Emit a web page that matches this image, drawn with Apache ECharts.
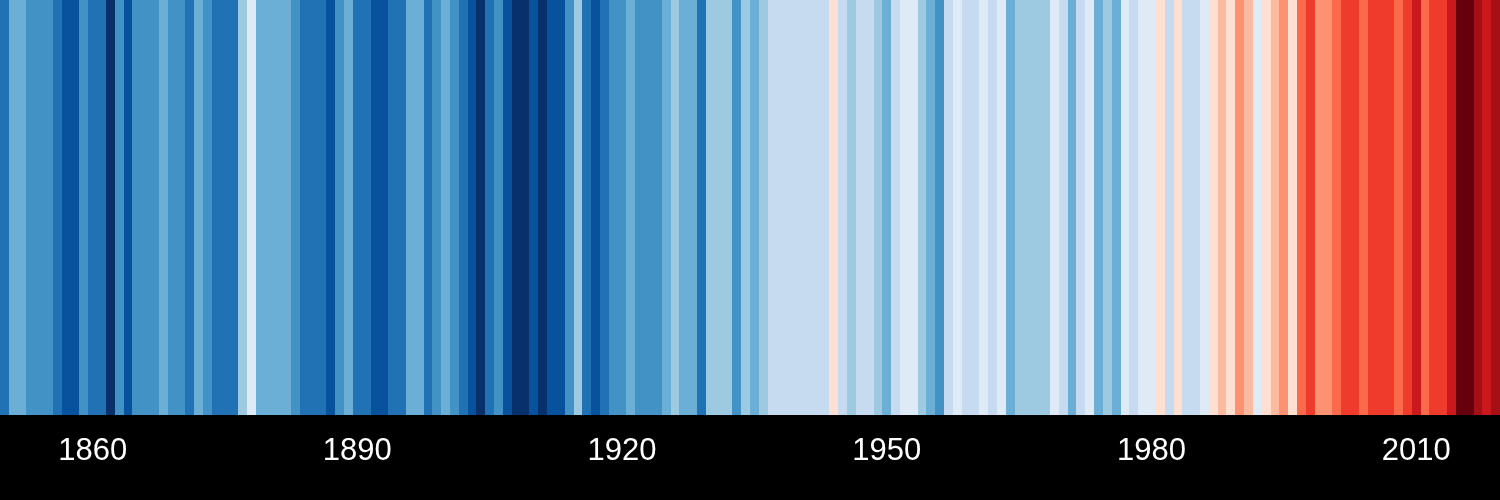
<!DOCTYPE html>
<html>
<head>
<meta charset="utf-8">
<style>
  html, body { margin: 0; padding: 0; background: #000; }
  #chart { width: 1500px; height: 500px; }
</style>
<script src="https://cdn.jsdelivr.net/npm/echarts@6/dist/echarts.min.js"></script>
</head>
<body>
<div id="chart"></div>
<script>
// Years 1850–2019
const firstYear = 1850;
const lastYear = 2019;
const years = [];
for (let y = firstYear; y <= lastYear; y++) years.push(String(y));

// Annual global temperature anomaly (°C)
const anomalies = [
  -0.373, -0.218, -0.228, -0.269, -0.248, -0.272, -0.358, -0.461, -0.467, -0.284, // 1850s
  -0.343, -0.407, -0.524, -0.278, -0.494, -0.279, -0.251, -0.321, -0.238, -0.262, // 1860s
  -0.276, -0.335, -0.227, -0.304, -0.368, -0.395, -0.384, -0.075,  0.035, -0.230, // 1870s
  -0.227, -0.200, -0.213, -0.296, -0.409, -0.389, -0.367, -0.425, -0.307, -0.171, // 1880s
  -0.416, -0.335, -0.455, -0.473, -0.410, -0.390, -0.186, -0.206, -0.412, -0.289, // 1890s
  -0.203, -0.259, -0.402, -0.479, -0.520, -0.377, -0.283, -0.465, -0.515, -0.522, // 1900s
  -0.490, -0.544, -0.437, -0.424, -0.244, -0.141, -0.383, -0.468, -0.333, -0.275, // 1910s
  -0.247, -0.187, -0.302, -0.276, -0.294, -0.215, -0.108, -0.210, -0.206, -0.350, // 1920s
  -0.137, -0.087, -0.137, -0.273, -0.131, -0.178, -0.147, -0.026, -0.006, -0.052, // 1930s
   0.014,  0.020, -0.027, -0.004,  0.144,  0.025, -0.071, -0.038, -0.039, -0.074, // 1940s
  -0.173, -0.052,  0.032,  0.097, -0.129, -0.190, -0.267, -0.007,  0.046,  0.017, // 1950s
  -0.049,  0.038,  0.014,  0.048, -0.223, -0.140, -0.068, -0.074, -0.113,  0.032, // 1960s
  -0.027, -0.186, -0.058,  0.062, -0.214, -0.149, -0.236,  0.047, -0.055,  0.057, // 1970s
   0.092,  0.140,  0.011,  0.194, -0.014, -0.030,  0.045,  0.192,  0.215,  0.125, // 1980s
   0.305,  0.254,  0.105,  0.148,  0.215,  0.325,  0.183,  0.395,  0.539,  0.306, // 1990s
   0.302,  0.441,  0.496,  0.505,  0.447,  0.545,  0.506,  0.491,  0.395,  0.506, // 2000s
   0.575,  0.425,  0.485,  0.514,  0.579,  0.763,  0.797,  0.677,  0.597,  0.736  // 2010s
];

// Tick labels shown under the stripes
const tickLabels = ['1860', '1890', '1920', '1950', '1980', '2010'];

// Colour bins (8 blues, 8 reds) and their thresholds
const stripeColors = [
  '#08306b', '#08519c', '#2171b5', '#4292c6', '#6baed6', '#9ecae1', '#c6dbef', '#deebf7',
  '#fee0d2', '#fcbba1', '#fc9272', '#fb6a4a', '#ef3b2c', '#cb181d', '#a50f15', '#67000d'
];
const binEdges = [-0.51, -0.42, -0.33, -0.24, -0.15, -0.06, 0.03, 0.12,
                  0.21, 0.30, 0.39, 0.48, 0.57, 0.66, 0.75];

const pieces = stripeColors.map((c, i) => {
  const p = { color: c };
  if (i > 0) p.gte = binEdges[i - 1];
  if (i < binEdges.length) p.lt = binEdges[i];
  return p;
});

const stripeData = anomalies.map((v, i) => [i, 0, v]);

function renderStripe(params, api) {
  const idx = api.value(0);
  const left = api.coord([idx, 0])[0] - api.size([1, 0])[0] / 2;
  const right = left + api.size([1, 0])[0];
  const cs = params.coordSys;
  const x0 = Math.round(left);
  const x1 = Math.round(right);
  return {
    type: 'rect',
    shape: { x: x0, y: cs.y, width: x1 - x0, height: cs.height },
    style: { fill: api.visual('color') }
  };
}

const chart = echarts.init(document.getElementById('chart'), null, { renderer: 'canvas' });
chart.setOption({
  backgroundColor: '#000',
  animation: false,
  grid: { left: 0, right: 0, top: 0, bottom: 85, containLabel: false },
  xAxis: {
    type: 'category',
    data: years,
    boundaryGap: true,
    axisLine: { show: false },
    axisTick: { show: false },
    splitLine: { show: false },
    axisLabel: {
      interval: (idx, val) => tickLabels.includes(val),
      color: '#fff',
      fontSize: 31,
      fontFamily: 'Liberation Sans, Arial, Helvetica, sans-serif',
      margin: 36,
      verticalAlign: 'middle'
    }
  },
  yAxis: {
    type: 'category',
    data: [''],
    show: false
  },
  visualMap: {
    type: 'piecewise',
    show: false,
    dimension: 2,
    seriesIndex: 0,
    pieces: pieces
  },
  series: [{
    type: 'custom',
    data: stripeData,
    encode: { x: 0, y: 1 },
    renderItem: renderStripe,
    emphasis: { disabled: true },
    silent: true
  }]
});
</script>
</body>
</html>
